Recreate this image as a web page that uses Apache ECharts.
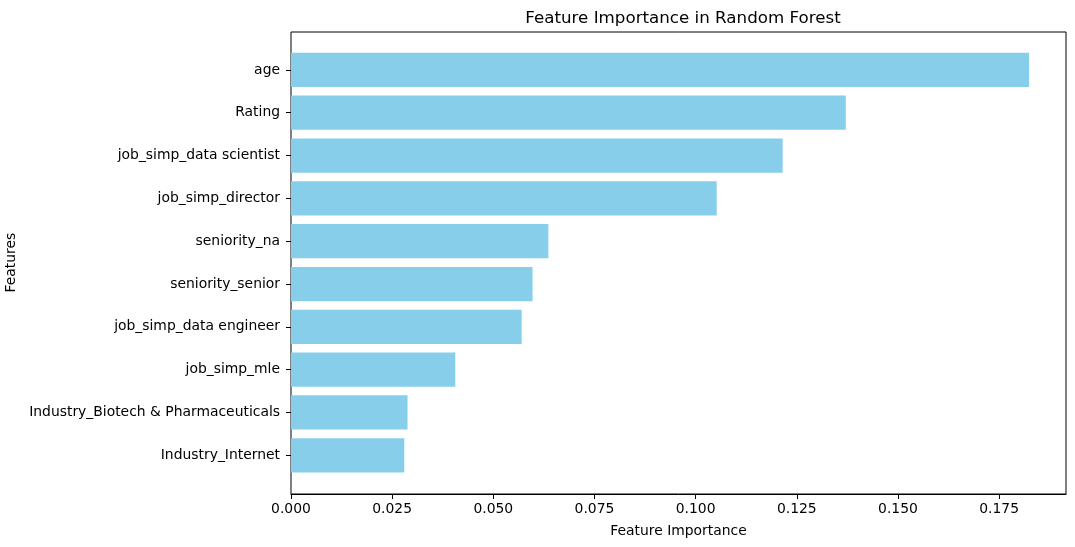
<!DOCTYPE html>
<html>
<head>
<meta charset="utf-8" />
<title>Feature Importance</title>
<script src="https://cdn.jsdelivr.net/npm/echarts@6/dist/echarts.min.js"></script>
<style type="text/css">
html, body { margin: 0; padding: 0; background: #fff; }
#main { width: 1075px; height: 547px; }
</style>
</head>
<body>
<div id="main"></div>
<script type="text/javascript">
var chart = echarts.init(document.getElementById("main"));

// data (top to bottom)
var categories = [
	"age",
	"Rating",
	"job_simp_data scientist",
	"job_simp_director",
	"seniority_na",
	"seniority_senior",
	"job_simp_data engineer",
	"job_simp_mle",
	"Industry_Biotech & Pharmaceuticals",
	"Industry_Internet"
];
var importance = [0.1824, 0.1371, 0.1215, 0.1052, 0.0636, 0.0597, 0.0570, 0.0406, 0.0288, 0.0280];

var xMax = Math.max.apply(null, importance) * 1.05; // matplotlib margin
var font = "DejaVu Sans";

var option = {
	backgroundColor: "#fff",
	animation: false,
	textStyle: { fontFamily: font },
	title: {
		text: "Feature Importance in Random Forest",
		left: 678,
		textAlign: "center",
		top: 5,
		textStyle: { fontFamily: font, fontSize: 16.7, fontWeight: "normal", color: "#000" }
	},
	grid: [
		{ // bars
			left: 291, right: 9, top: 48.5, bottom: 70.3,
			outerBoundsMode: "none", containLabel: false
		},
		{ // frame
			left: 291, right: 9, top: 32, bottom: 53,
			outerBoundsMode: "none", containLabel: false,
			show: true, borderColor: "#000", borderWidth: 1, backgroundColor: "transparent"
		}
	],
	xAxis: [
		{
			gridIndex: 0, type: "value", min: 0, max: xMax, show: false
		},
		{
			gridIndex: 1, type: "value", min: 0, max: xMax, interval: 0.025,
			name: "Feature Importance",
			nameLocation: "middle",
			nameGap: 30,
			nameTextStyle: { fontFamily: font, fontSize: 13.9, color: "#000" },
			axisLine: { show: true, lineStyle: { color: "#000", width: 1 } },
			axisTick: { show: true, length: 5, lineStyle: { color: "#000" } },
			axisLabel: {
				fontFamily: font, fontSize: 13.9, color: "#000", margin: 8,
				showMaxLabel: false,
				formatter: function (v) { return v.toFixed(3); }
			},
			splitLine: { show: false }
		}
	],
	yAxis: [
		{
			gridIndex: 0, type: "category", data: categories, inverse: true,
			name: "Features",
			nameLocation: "middle",
			nameGap: 263,
			nameTextStyle: { fontFamily: font, fontSize: 13.9, color: "#000" },
			axisLine: { show: false },
			axisTick: { show: true, alignWithLabel: true, length: 5, lineStyle: { color: "#000" } },
			axisLabel: { fontFamily: font, fontSize: 13.9, color: "#000", margin: 11 },
			splitLine: { show: false }
		},
		{
			gridIndex: 1, type: "value", min: 0, max: 1, show: false
		}
	],
	series: [
		{
			type: "bar",
			xAxisIndex: 0,
			yAxisIndex: 0,
			data: importance,
			barWidth: "80%",
			itemStyle: { color: "#87CEEB", borderWidth: 0 }
		}
	]
};

chart.setOption(option);
</script>
</body>
</html>
